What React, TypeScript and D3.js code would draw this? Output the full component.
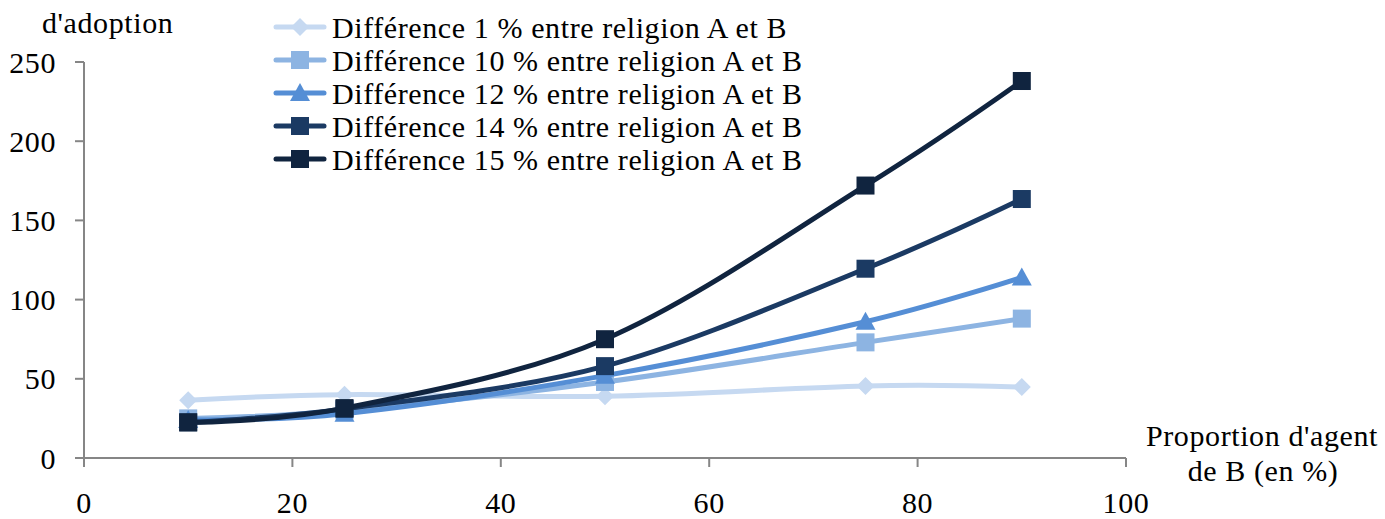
import React from "react";
import * as d3 from "d3";

const xValues = [10, 25, 50, 75, 90];
const seriesNames = [
  "Différence 1 % entre religion A et B",
  "Différence 10 % entre religion A et B",
  "Différence 12 % entre religion A et B",
  "Différence 14 % entre religion A et B",
  "Différence 15 % entre religion A et B",
];
const diff1 = [36.5, 40, 39, 45.5, 44.8];
const diff10 = [25, 30, 48, 73, 88];
const diff12 = [24, 28, 52, 86, 114];
const diff14 = [22.5, 31, 58, 119.5, 163.5];
const diff15 = [22.5, 31.5, 75, 172, 238];
const seriesColors = ["#C6D9F1", "#8DB4E2", "#558ED5", "#1B3A63", "#10243F"];
const seriesMarkers = ["diamond", "square", "triangle", "square", "square"];
const xTicks = [0, 20, 40, 60, 80, 100];
const yTicks = [0, 50, 100, 150, 200, 250];

const allSeries = [diff1, diff10, diff12, diff14, diff15];

function Marker({ type, x, y, color }: { type: string; x: number; y: number; color: string }) {
  if (type === "diamond") {
    const r = 9;
    return <path d={`M${x},${y - r}L${x + r},${y}L${x},${y + r}L${x - r},${y}Z`} fill={color} />;
  }
  if (type === "triangle") {
    const r = 10;
    return <path d={`M${x},${y - r}L${x + r},${y + r * 0.8}L${x - r},${y + r * 0.8}Z`} fill={color} />;
  }
  const s = 9;
  return <rect x={x - s} y={y - s} width={2 * s} height={2 * s} fill={color} />;
}

export default function App() {
  const W = 1385, H = 519;
  const x = d3.scaleLinear().domain([0, 100]).range([84, 1126]);
  const y = d3.scaleLinear().domain([0, 250]).range([458, 62]);
  const line = d3
    .line<number>()
    .x((_, i) => x(xValues[i]))
    .y((d) => y(d))
    .curve(d3.curveCardinal.tension(0));
  const font = '"Liberation Serif", "Times New Roman", "DejaVu Serif", serif';
  const axisColor = "#868686";
  const legendY = [27, 60, 93, 126, 159];
  const ts = { fontFamily: font, fontSize: 30, letterSpacing: "0.6px" } as React.CSSProperties;

  return (
    <svg width={W} height={H} style={{ position: "absolute", left: 0, top: 0 }}>
      <rect width={W} height={H} fill="white" />
      <line x1={x(0)} x2={x(0)} y1={y(250)} y2={y(0)} stroke={axisColor} strokeWidth={2} />
      <line x1={x(0)} x2={x(100)} y1={y(0)} y2={y(0)} stroke={axisColor} strokeWidth={2} />
      {yTicks.map((t) => (
        <g key={"y" + t}>
          <line x1={x(0) - 9} x2={x(0)} y1={y(t)} y2={y(t)} stroke={axisColor} strokeWidth={2} />
          <text x={56} y={y(t)} dy="0.35em" textAnchor="end" style={ts} fill="#000">
            {t}
          </text>
        </g>
      ))}
      {xTicks.map((t) => (
        <g key={"x" + t}>
          <line x1={x(t)} x2={x(t)} y1={y(0)} y2={y(0) + 9} stroke={axisColor} strokeWidth={2} />
          <text x={x(t)} y={513} textAnchor="middle" style={ts} fill="#000">
            {t}
          </text>
        </g>
      ))}
      <text x={42} y={33} style={ts} fill="#000">d'adoption</text>
      <text x={1262} y={446} textAnchor="middle" style={ts} fill="#000">Proportion d'agent</text>
      <text x={1263} y={481} textAnchor="middle" style={ts} fill="#000">de B (en %)</text>
      {allSeries.map((s, si) => (
        <g key={"s" + si}>
          <path d={line(s) || ""} fill="none" stroke={seriesColors[si]} strokeWidth={5} strokeLinecap="round" />
          {s.map((v, i) => (
            <Marker key={i} type={seriesMarkers[si]} x={x(xValues[i])} y={y(v)} color={seriesColors[si]} />
          ))}
        </g>
      ))}
      {seriesNames.map((n, i) => (
        <g key={"l" + i}>
          <line x1={276} x2={324} y1={legendY[i]} y2={legendY[i]} stroke={seriesColors[i]} strokeWidth={5} strokeLinecap="round" />
          <Marker type={seriesMarkers[i]} x={300} y={legendY[i]} color={seriesColors[i]} />
          <text x={332} y={legendY[i]} dy="0.35em" style={ts} fill="#000">
            {n}
          </text>
        </g>
      ))}
    </svg>
  );
}
